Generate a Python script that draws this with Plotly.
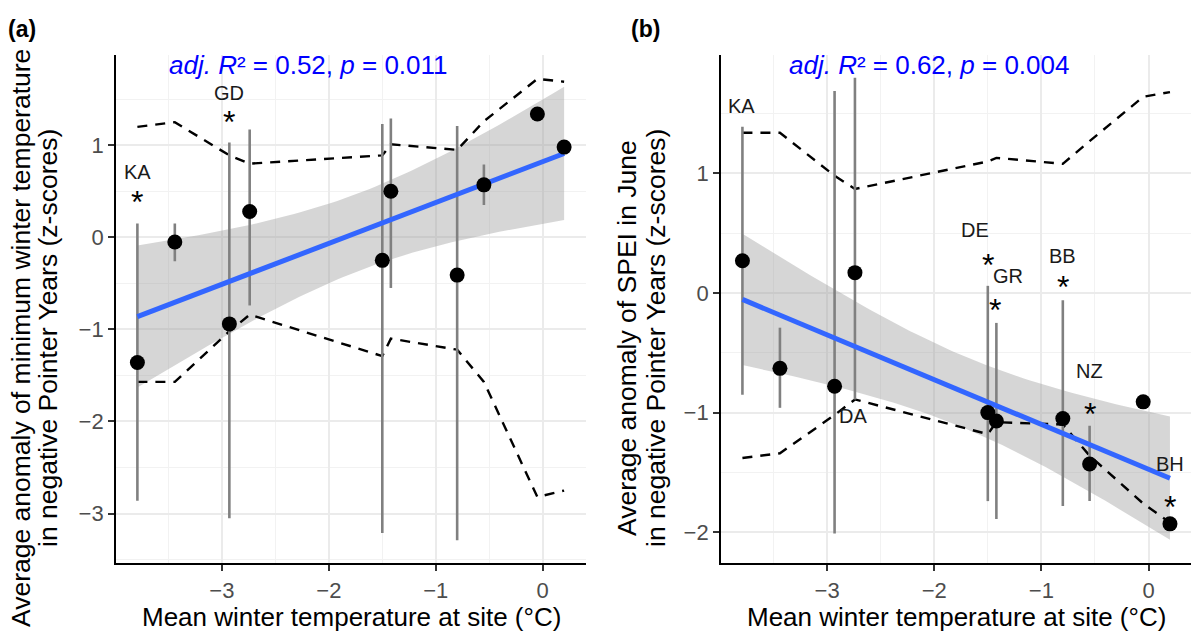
import numpy as np
import plotly.graph_objects as go

# ---------------- data ----------------
temp = [-3.79, -3.44, -2.93, -2.74, -1.50, -1.42, -0.80, -0.55, -0.05, 0.20]

# panel (a): minimum winter temperature anomaly
tmin_mean = [-1.36, -0.05, -0.94, 0.28, -0.25, 0.50, -0.41, 0.57, 1.34, 0.98]
tmin_low = [-2.86, -0.26, -3.05, -0.74, -3.21, -0.55, -3.29, 0.35, None, None]
tmin_high = [0.15, 0.15, 1.03, 1.17, 1.23, 1.29, 1.21, 0.79, None, None]
tmin_env_up = [1.20, 1.25, 0.89, 0.80, 0.89, 1.01, 0.95, 1.26, 1.72, 1.69]
tmin_env_lo = [-1.57, -1.57, -1.02, -0.84, -1.29, -1.10, -1.22, -1.57, -2.82, -2.75]

# panel (b): SPEI June anomaly
spei_mean = [0.27, -0.63, -0.78, 0.17, -1.00, -1.07, -1.05, -1.43, -0.91, -1.93]
spei_low = [-0.85, -0.96, -2.01, -0.89, -1.74, -1.89, -1.78, -1.74, None, None]
spei_high = [1.39, -0.29, 1.69, 1.80, 0.06, -0.25, -0.06, -1.11, None, None]
spei_env_up = [1.34, 1.34, 0.98, 0.87, 1.10, 1.13, 1.08, 1.27, 1.64, 1.68]
spei_env_lo = [-1.38, -1.34, -1.02, -0.89, -1.18, -1.08, -1.10, -1.36, -1.76, -1.92]

# site labels and significance stars
a_lab = ["KA", "GD"]
a_lab_x = [-3.79, -2.93]
a_lab_y = [0.71, 1.57]
a_star_x = [-3.79, -2.93]
a_star_y = [0.46, 1.33]

b_lab = ["KA", "DA", "DE", "GR", "BB", "NZ", "BH"]
b_lab_x = [-3.80, -2.76, -1.62, -1.31, -0.80, -0.55, 0.20]
b_lab_y = [1.56, -1.03, 0.53, 0.14, 0.31, -0.65, -1.43]
b_star_x = [-1.50, -1.43, -0.80, -0.55, 0.20]
b_star_y = [0.29, -0.08, 0.11, -0.95, -1.73]

stat_a = "<i>adj.</i> <i>R</i>² = 0.52, <i>p</i> = 0.011"
stat_b = "<i>adj.</i> <i>R</i>² = 0.62, <i>p</i> = 0.004"
xtitle = "Mean winter temperature at site (°C)"
ytitle_a = ["Average anomaly of minimum winter temperature", "in negative Pointer Years (z-scores)"]
ytitle_b = ["Average anomaly of SPEI in June", "in negative Pointer Years (z-scores)"]

T975_DF8 = 2.306  # t quantile for 95% CI, n-2 = 8 df

FONT = "Liberation Sans, Arial, sans-serif"
W, H = 1197, 635


def lm_band(x, y, n_grid=80):
    x = np.asarray(x, float)
    y = np.asarray(y, float)
    n = len(x)
    xm = x.mean()
    sxx = ((x - xm) ** 2).sum()
    b = ((x - xm) * (y - y.mean())).sum() / sxx
    a = y.mean() - b * xm
    res = y - (a + b * x)
    s = np.sqrt((res ** 2).sum() / (n - 2))
    xs = np.linspace(x.min(), x.max(), n_grid)
    yh = a + b * xs
    se = s * np.sqrt(1.0 / n + (xs - xm) ** 2 / sxx)
    return xs, yh, yh - T975_DF8 * se, yh + T975_DF8 * se


fig = go.Figure()


def add_panel(xa, ya, yv, lo, hi, up, dn):
    xs, yh, bl, bu = lm_band(temp, yv)
    fig.add_trace(go.Scatter(x=np.concatenate([xs, xs[::-1]]), y=np.concatenate([bu, bl[::-1]]),
                             fill="toself", fillcolor="rgba(153,153,153,0.4)", line=dict(width=0),
                             mode="lines", hoverinfo="skip", xaxis=xa, yaxis=ya))
    for env in (up, dn):
        fig.add_trace(go.Scatter(x=temp, y=env, mode="lines",
                                 line=dict(color="black", width=2.4, dash="10px,8px"),
                                 xaxis=xa, yaxis=ya))
    ex, ey = [], []
    for t, l, h in zip(temp, lo, hi):
        if l is None or h is None:
            continue
        ex += [t, t, None]
        ey += [l, h, None]
    fig.add_trace(go.Scatter(x=ex, y=ey, mode="lines", line=dict(color="#808080", width=2.6),
                             xaxis=xa, yaxis=ya))
    fig.add_trace(go.Scatter(x=xs, y=yh, mode="lines", line=dict(color="#3366FF", width=5),
                             xaxis=xa, yaxis=ya))
    fig.add_trace(go.Scatter(x=temp, y=yv, mode="markers", marker=dict(color="black", size=15),
                             xaxis=xa, yaxis=ya))


add_panel("x", "y", tmin_mean, tmin_low, tmin_high, tmin_env_up, tmin_env_lo)
add_panel("x2", "y2", spei_mean, spei_low, spei_high, spei_env_up, spei_env_lo)

ann = []


def label(xr, yr, xs_, ys_, texts):
    for x, y, t in zip(xs_, ys_, texts):
        ann.append(dict(x=x, y=y, xref=xr, yref=yr, text=t, showarrow=False,
                        xanchor="center", yanchor="middle",
                        font=dict(family=FONT, size=20, color="#1a1a1a")))


def stars(xr, yr, xs_, ys_):
    for x, y in zip(xs_, ys_):
        ann.append(dict(x=x, y=y, xref=xr, yref=yr, text="*", showarrow=False, yshift=-7,
                        xanchor="center", yanchor="middle",
                        font=dict(family=FONT, size=32, color="black")))


label("x", "y", a_lab_x, a_lab_y, a_lab)
stars("x", "y", a_star_x, a_star_y)
label("x2", "y2", b_lab_x, b_lab_y, b_lab)
stars("x2", "y2", b_star_x, b_star_y)

ann.append(dict(x=-2.19, y=1.87, xref="x", yref="y", text=stat_a, showarrow=False,
                xanchor="center", yanchor="middle",
                font=dict(family=FONT, size=26, color="#0000FF")))
ann.append(dict(x=-2.05, y=1.91, xref="x2", yref="y2", text=stat_b, showarrow=False,
                xanchor="center", yanchor="middle",
                font=dict(family=FONT, size=26, color="#0000FF")))


def paper_text(cx, cy, text, size, angle=0):
    ann.append(dict(x=cx / W, y=1 - cy / H, xref="paper", yref="paper", text=text,
                    textangle=angle, showarrow=False, xanchor="center", yanchor="middle",
                    font=dict(family=FONT, size=size, color="black")))


paper_text(351, 617, xtitle, 26)
paper_text(956, 617, xtitle, 26)
for cx, t in zip((21, 48), ytitle_a):
    paper_text(cx, 338, t, 26.5, -90)
for cx, t in zip((627, 656), ytitle_b):
    paper_text(cx, 338, t, 26.5, -90)
paper_text(22, 29, "<b>(a)</b>", 23)
paper_text(645, 29, "<b>(b)</b>", 23)


def axis(domain, rng, anchor):
    return dict(domain=domain, range=rng, anchor=anchor, showline=True, linecolor="black",
                linewidth=1.8, ticks="outside", ticklen=6, tickwidth=1.8, tickcolor="#333333",
                tickfont=dict(family=FONT, size=22, color="#4D4D4D"), showgrid=True,
                gridcolor="#EBEBEB", gridwidth=1.8, zeroline=False, tickmode="linear",
                tick0=0, dtick=1,
                minor=dict(dtick=0.5, tick0=0, showgrid=True, gridcolor="#F2F2F2", gridwidth=1, ticks=""))


ydom = [(H - 563.3) / H, (H - 55) / H]
fig.update_layout(
    width=W, height=H, margin=dict(l=0, r=0, t=0, b=0),
    paper_bgcolor="white", plot_bgcolor="white", showlegend=False,
    xaxis=axis([116 / W, 585.5 / W], [-3.99, 0.40], "y"),
    yaxis=axis(ydom, [-3.54, 1.98], "x"),
    xaxis2=axis([721 / W, 1191.4 / W], [-3.99, 0.40], "y2"),
    yaxis2=axis(ydom, [-2.26, 1.99], "x2"),
    annotations=ann,
)

fig.write_html("out.html")
